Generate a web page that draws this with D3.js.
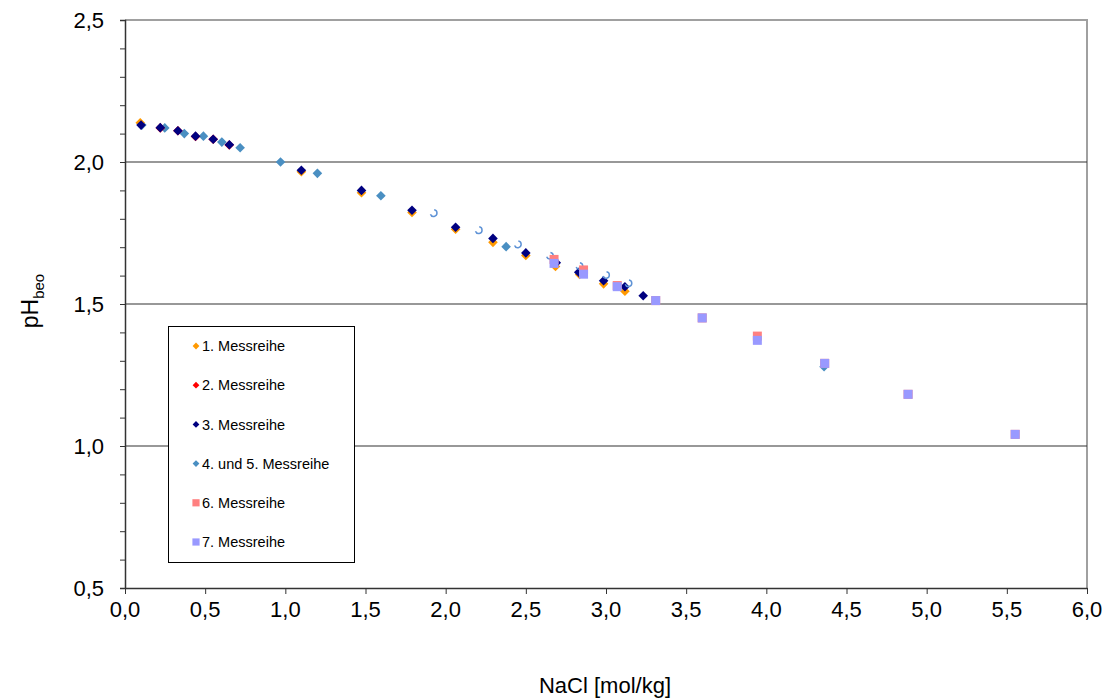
<!DOCTYPE html>
<html>
<head>
<meta charset="utf-8">
<script src="https://cdn.jsdelivr.net/npm/d3@7"></script>
<style>
  body { margin: 0; background: #fff; }
  text { font-family: "Liberation Sans", Arial, sans-serif; fill: #000; }
</style>
</head>
<body>
<svg id="chart"></svg>
<script>
// data: [NaCl mol/kg, pH]
const reihe1 = [[0.095, 2.138], [1.10, 1.966], [1.475, 1.892], [1.79, 1.822], [2.062, 1.763],
  [2.295, 1.717], [2.50, 1.671], [2.685, 1.632], [2.835, 1.604], [2.985, 1.571], [3.118, 1.545]];
const reihe2 = [[0.22, 2.12], [0.33, 2.11], [0.44, 2.09], [0.55, 2.08], [0.65, 2.06]];
const reihe3 = [[0.10, 2.13], [0.22, 2.121], [0.33, 2.11], [0.44, 2.091], [0.55, 2.08], [0.651, 2.061],
  [1.10, 1.971], [1.475, 1.90], [1.79, 1.83], [2.062, 1.77], [2.295, 1.731], [2.50, 1.68],
  [2.69, 1.645], [2.83, 1.612], [2.985, 1.582], [3.118, 1.561], [3.232, 1.529]];
const reihe45 = [[0.105, 2.13], [0.248, 2.12], [0.37, 2.10], [0.489, 2.091], [0.604, 2.07], [0.718, 2.05],
  [0.97, 2.0], [1.20, 1.96], [1.596, 1.881], [2.377, 1.702], [4.36, 1.279]];
const reihe5Glyph = [[1.925, 1.82], [2.206, 1.76], [2.45, 1.71], [2.65, 1.67], [2.834, 1.634],
  [3.0, 1.602], [3.14, 1.573]];
const reihe6 = [[2.676, 1.657], [2.86, 1.62], [3.07, 1.565], [3.31, 1.512], [3.60, 1.451],
  [3.944, 1.387], [4.364, 1.291], [4.884, 1.182], [5.552, 1.041]];
const reihe7 = [[2.676, 1.643], [2.86, 1.605], [3.07, 1.561], [3.31, 1.512], [3.60, 1.451],
  [3.944, 1.372], [4.364, 1.291], [4.884, 1.182], [5.552, 1.041]];

const legendLabels = ['1. Messreihe', '2. Messreihe', '3. Messreihe', '4. und 5. Messreihe', '6. Messreihe', '7. Messreihe'];
const xTicks = [0, 0.5, 1, 1.5, 2, 2.5, 3, 3.5, 4, 4.5, 5, 5.5, 6];
const yTicks = [0.5, 1.0, 1.5, 2.0, 2.5];

const WIDTH = 1113, HEIGHT = 700;
const LEFT = 125, RIGHT = 1087, TOP = 20, BOTTOM = 588;

const svg = d3.select('#chart').attr('width', WIDTH).attr('height', HEIGHT);

const x = d3.scaleLinear().domain([0, 6]).range([LEFT, RIGHT]);
const y = d3.scaleLinear().domain([0.5, 2.5]).range([BOTTOM, TOP]);
const fmt = d => d.toFixed(1).replace('.', ',');

// plot frame (top + right in light gray)
svg.append('path')
  .attr('d', `M${LEFT},${TOP}H${RIGHT}V${BOTTOM}`)
  .attr('fill', 'none').attr('stroke', '#a0a0a0').attr('stroke-width', 2);

// horizontal grid
svg.append('g')
  .selectAll('line')
  .data(yTicks.filter(d => d > 0.5 && d < 2.5))
  .join('line')
  .attr('x1', LEFT).attr('x2', RIGHT)
  .attr('y1', d => y(d)).attr('y2', d => y(d))
  .attr('stroke', '#333').attr('stroke-width', 1.2);

// y axis with minor ticks
const yAxis = svg.append('g')
  .attr('transform', `translate(${LEFT},0)`)
  .call(d3.axisLeft(y).tickValues(d3.range(0.5, 2.51, 0.1)).tickSize(5).tickFormat(''));
yAxis.select('.domain').attr('stroke', '#333').attr('stroke-width', 1.5);
yAxis.selectAll('.tick line').attr('stroke', '#333');

svg.append('g')
  .selectAll('text')
  .data(yTicks)
  .join('text')
  .attr('x', 104)
  .attr('y', d => y(d))
  .attr('dy', '0.36em')
  .attr('text-anchor', 'end')
  .style('font-size', '22px')
  .text(fmt);

// x axis
const xAxis = svg.append('g')
  .attr('transform', `translate(0,${BOTTOM})`)
  .call(d3.axisBottom(x).tickValues(xTicks).tickSize(6).tickSizeOuter(0).tickFormat(''));
xAxis.select('.domain').attr('stroke', '#333').attr('stroke-width', 1.5);
xAxis.selectAll('.tick line').attr('stroke', '#333');

svg.append('g')
  .selectAll('text')
  .data(xTicks)
  .join('text')
  .attr('x', d => x(d))
  .attr('y', 617)
  .attr('text-anchor', 'middle')
  .style('font-size', '22px')
  .text(fmt);

// axis titles
svg.append('text')
  .attr('x', 605).attr('y', 693)
  .attr('text-anchor', 'middle')
  .style('font-size', '22px')
  .text('NaCl [mol/kg]');

const yTitle = svg.append('text')
  .attr('transform', 'translate(38,301) rotate(-90)')
  .attr('text-anchor', 'middle')
  .style('font-size', '23px');
yTitle.append('tspan').text('pH');
yTitle.append('tspan').attr('dy', 6).style('font-size', '15px').text('beo');

// markers
const diamond = r => `M0,${-r}L${r},0L0,${r}L${-r},0Z`;
const square = r => `M${-r},${-r}H${r}V${r}H${-r}Z`;

function drawSeries(data, path, color) {
  svg.append('g')
    .selectAll('path')
    .data(data)
    .join('path')
    .attr('transform', d => `translate(${x(d[0])},${y(d[1])})`)
    .attr('d', path)
    .attr('fill', color);
}

drawSeries(reihe45, diamond(4.8), '#4a8fc2');
drawSeries(reihe1, diamond(4.8), '#ff9900');
drawSeries(reihe2, diamond(4.8), '#ff0000');
drawSeries(reihe3, diamond(4.8), '#000080');

// odd open marks left over from series 5
const glyph = d3.arc().innerRadius(2.6).outerRadius(4.1)
  .startAngle(Math.PI * 0.05).endAngle(Math.PI * 1.4);
drawSeries(reihe5Glyph, glyph(), '#5f93d6');

drawSeries(reihe6, square(4.5), '#ff8080');
drawSeries(reihe7, square(4.5), '#9999ff');

// legend
const legend = svg.append('g');
legend.append('rect')
  .attr('x', 168.5).attr('y', 326.5).attr('width', 186).attr('height', 236)
  .attr('fill', '#fff').attr('stroke', '#000').attr('stroke-width', 1);

const legendMarks = [
  [diamond(3.4), '#ff9900'], [diamond(3.4), '#ff0000'], [diamond(3.4), '#000080'],
  [diamond(3.4), '#4a8fc2'], [square(3.6), '#ff8080'], [square(3.6), '#9999ff']
];
const item = legend.selectAll('g.item')
  .data(legendLabels)
  .join('g')
  .attr('class', 'item')
  .attr('transform', (d, i) => `translate(196,${346 + i * 39.2})`);
item.append('path')
  .attr('d', (d, i) => legendMarks[i][0])
  .attr('fill', (d, i) => legendMarks[i][1]);
item.append('text')
  .attr('x', 6)
  .attr('dy', '0.36em')
  .style('font-size', '14.5px')
  .text(d => d);
</script>
</body>
</html>
